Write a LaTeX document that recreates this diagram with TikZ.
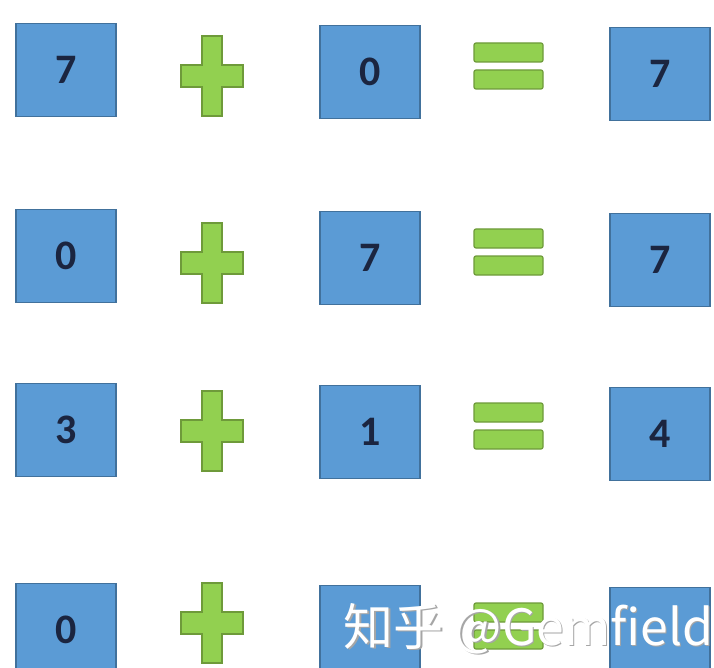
\documentclass[tikz,border=0pt]{standalone}
\usepackage{fontspec}
\setmainfont{Carlito}
\newfontfamily\cjkfont{Noto Sans CJK SC}
\usetikzlibrary{positioning}
\definecolor{boxblue}{HTML}{5B9BD5}
\definecolor{boxedge}{HTML}{41719C}
\definecolor{opgreen}{HTML}{92D050}
\definecolor{opedge}{HTML}{6E9A3A}
\definecolor{digit}{HTML}{1B2540}

\begin{document}
\begin{tikzpicture}[x=1pt, y=-1pt,
  numbox/.style={draw=boxedge, fill=boxblue, line width=1.2pt, minimum width=100pt, minimum height=93pt, inner sep=0pt, text=digit, font=\fontsize{42}{46}\selectfont\bfseries},
  opshape/.style={draw=opedge, fill=opgreen, line width=1.2pt}]
  \useasboundingbox[fill=white] (0,0) rectangle (714,668);
  % rows: index / centre y / plus y / left / right / result
  \foreach \r/\y/\p/\a/\b/\c in {1/70/76/7/0/7, 2/256/263/0/7/7, 3/430/431/3/1/4, 4/630/623/0/{}/{}} {
    \node[numbox] (a\r) at (66,\y) {\a};
    \node[numbox] (b\r) at (370,\y+2) {\b};
    \node[numbox] (c\r) at (660,\y+4) {\c};
    % plus sign
    \draw[opshape] (212,\p) ++(-10,-40) -- ++(20,0) -- ++(0,29) -- ++(21,0) -- ++(0,22)
      -- ++(-21,0) -- ++(0,29) -- ++(-20,0) -- ++(0,-29) -- ++(-21,0) -- ++(0,-22) -- ++(21,0) -- cycle;
    % equals sign
    \draw[opshape, rounded corners=2pt] (474,\y-27) rectangle ++(69,19);
    \draw[opshape, rounded corners=2pt] (474,\y-0) rectangle ++(69,19);
  }
  % watermark
  \node[anchor=base west, text=gray!70, font=\cjkfont\fontsize{50}{54}\selectfont] (markshadow) at (341.5,646.5) {知乎 @Gemfield};
  \node[anchor=base west, text=white, font=\cjkfont\fontsize{50}{54}\selectfont] (mark) at (340,645) {知乎 @Gemfield};
\end{tikzpicture}
\end{document}
